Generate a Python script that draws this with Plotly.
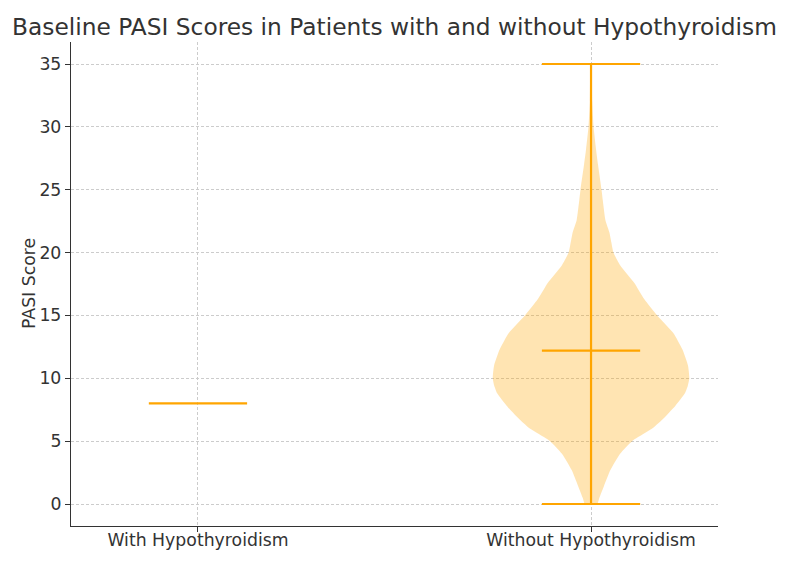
import numpy as np
import plotly.graph_objects as go

# ---- data ----
categories = ["With Hypothyroidism", "Without Hypothyroidism"]
positions = [1, 2]

# group 1: a single observed value
with_values = [8.0]

# group 2: summary statistics
without_min = 0.0
without_max = 35.0
without_mean = 12.2

# group 2: estimated density profile (relative to max) at PASI levels
pasi_levels = [0, 0.5, 1.4, 2.7, 4, 5, 5.6, 6, 6.7, 7.8, 8.8, 9.4, 10, 11, 12.3, 13.6,
               15, 16.3, 17.6, 19, 20, 20.8, 21.6, 22.6, 24.2, 25, 27, 28.2, 30, 32, 35]
density_rel = [0.066, 0.085, 0.13, 0.197, 0.296, 0.418, 0.54, 0.622, 0.724, 0.857,
               0.955, 0.985, 1.0, 0.987, 0.929, 0.837, 0.673, 0.541, 0.439, 0.296, 0.228,
               0.207, 0.187, 0.146, 0.119, 0.107, 0.071, 0.051, 0.026, 0.012, 0.003]

y_ticks = [0, 5, 10, 15, 20, 25, 30, 35]

# ---- styling ----
ORANGE = "#FFA500"
FILL = "rgba(255,165,0,0.3)"
TXT = "#333333"
GRID = "#cccccc"
violin_half = 0.25
bar_half = 0.125
OFF = 8  # page body margin offset compensation

fig = go.Figure()

# violin body for group 2
lv = np.array(pasi_levels)
dv = np.array(density_rel) * violin_half
xs = np.concatenate([positions[1] + dv, (positions[1] - dv)[::-1]])
ys = np.concatenate([lv, lv[::-1]])
fig.add_trace(go.Scatter(x=xs, y=ys, mode="lines", fill="toself", fillcolor=FILL,
                         line=dict(width=0, color=FILL, shape="spline", smoothing=0.5),
                         hoverinfo="skip", showlegend=False))

def hline(xc, y):
    fig.add_trace(go.Scatter(x=[xc - bar_half, xc + bar_half], y=[y, y], mode="lines",
                             line=dict(color=ORANGE, width=2.2), showlegend=False,
                             hoverinfo="skip"))

# group 1: min/max/mean all coincide
v = with_values[0]
hline(positions[0], v)

# group 2: vertical bar, extrema, mean
fig.add_trace(go.Scatter(x=[positions[1], positions[1]], y=[without_min, without_max],
                         mode="lines", line=dict(color=ORANGE, width=2.2),
                         showlegend=False, hoverinfo="skip"))
hline(positions[1], without_min)
hline(positions[1], without_max)
hline(positions[1], without_mean)

fig.update_layout(
    width=787, height=562,
    margin=dict(l=71 - OFF, r=69 + OFF, t=42 - OFF, b=36 + OFF),
    paper_bgcolor="white", plot_bgcolor="white",
    font=dict(family="DejaVu Sans", color=TXT, size=17),
    title=dict(text="Baseline PASI Scores in Patients with and without Hypothyroidism",
               x=0.5, xref="paper", xanchor="center", y=1 - (27 - OFF) / 562,
               yref="container", yanchor="middle", font=dict(size=23.3, color=TXT)),
    showlegend=False,
)
axis_common = dict(showgrid=True, gridcolor=GRID, griddash="3px,2px", gridwidth=0.8,
                   showline=True, linecolor=TXT, linewidth=1.3, ticks="outside",
                   ticklen=5, tickcolor=TXT, zeroline=False,
                   tickfont=dict(size=17.3, color=TXT))
fig.update_xaxes(range=[0.677, 2.323], tickvals=positions, ticktext=categories,
                 ticklabelstandoff=-7, **axis_common)
fig.update_yaxes(range=[-1.75, 36.75], tickvals=y_ticks, **axis_common)
fig.add_annotation(text="PASI Score", xref="paper", yref="paper", x=0, y=0.5,
                   xanchor="center", yanchor="middle", xshift=-42, textangle=-90,
                   showarrow=False, font=dict(size=17.3, color=TXT))

fig.write_html("out.html")
